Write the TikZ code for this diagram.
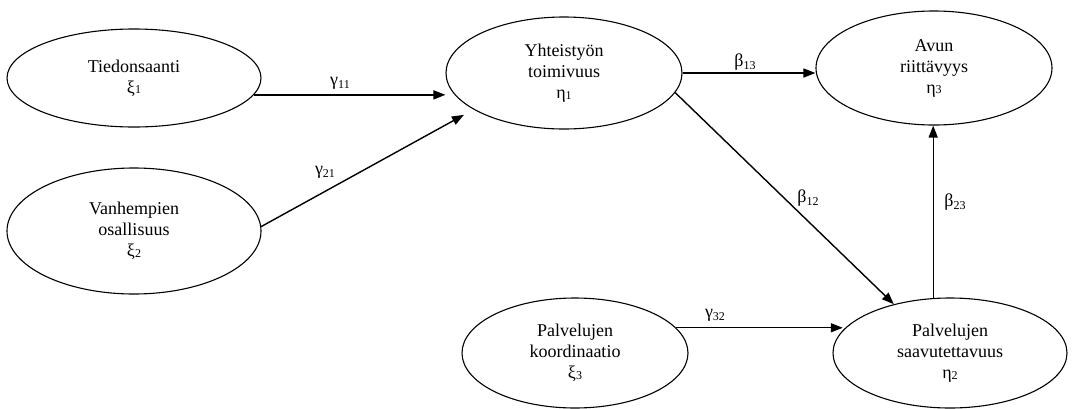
\documentclass[tikz,border=0pt]{standalone}
\usepackage{fontspec}
\setmainfont{Liberation Serif}
\usetikzlibrary{shapes.geometric,arrows.meta}
\newcommand\lsub[2][0.1ex]{\raisebox{-#1}{\fontsize{12}{12}\selectfont #2}}
\tikzset{
  lv/.style={draw, ellipse, line width=1.1pt, inner sep=0pt, align=center,
    font=\fontsize{18}{21}\selectfont},
  arr/.style={line width=1.4pt, -{Triangle[length=12pt,width=9pt]}},
  lab/.style={font=\fontsize{18}{21}\selectfont, inner sep=0pt}
}
\begin{document}
\begin{tikzpicture}[x=1pt,y=-1pt]
\useasboundingbox (0,0) rectangle (1072,408);
\node[lv, minimum width=254pt, minimum height=98pt]  (xi1)  at (134,78)  {Tiedonsaanti\\ξ\lsub{1}};
\node[lv, minimum width=254pt, minimum height=126pt] (xi2)  at (134,231) {Vanhempien\\osallisuus\\ξ\lsub{2}};
\node[lv, minimum width=236pt, minimum height=112pt] (eta1) at (564,73)  {Yhteistyön\\toimivuus\\η\lsub{1}};
\node[lv, minimum width=236pt, minimum height=114pt] (eta3) at (934,68)  {Avun\\riittävyys\\η\lsub{3}};
\node[lv, minimum width=226pt, minimum height=110pt] (xi3)  at (575,353) {Palvelujen\\koordinaatio\\ξ\lsub{3}};
\node[lv, minimum width=234pt, minimum height=110pt] (eta2) at (950,353) {Palvelujen\\saavutettavuus\\η\lsub{2}};

\draw[arr] (xi1.-8.7) -- (xi1.-8.7 -| eta1.west);
\draw[arr, shorten >=11pt] (xi2.2.7) -- (eta1.202.6);
\draw[arr] (eta1.east) -- (eta1.east -| eta3.west);
\draw[arr] (eta1.-10) -- (eta2.139.2);
\draw[arr] (xi3.14) -- (xi3.14 -| eta2.168);
\draw[arr] (eta2.107.4) -- (eta2.107.4 |- eta3.south);

\node[lab] (lg11) at (340,83)  {γ\lsub[0.35ex]{11}};
\node[lab] (lg21) at (325,172) {γ\lsub[0.35ex]{21}};
\node[lab] (lb13) at (745,62)  {β\lsub[0.35ex]{13}};
\node[lab] (lb12) at (808,198) {β\lsub[0.35ex]{12}};
\node[lab] (lg32) at (715,315) {γ\lsub[0.35ex]{32}};
\node[lab] (lb23) at (955,202) {β\lsub[0.35ex]{23}};
\end{tikzpicture}
\end{document}
